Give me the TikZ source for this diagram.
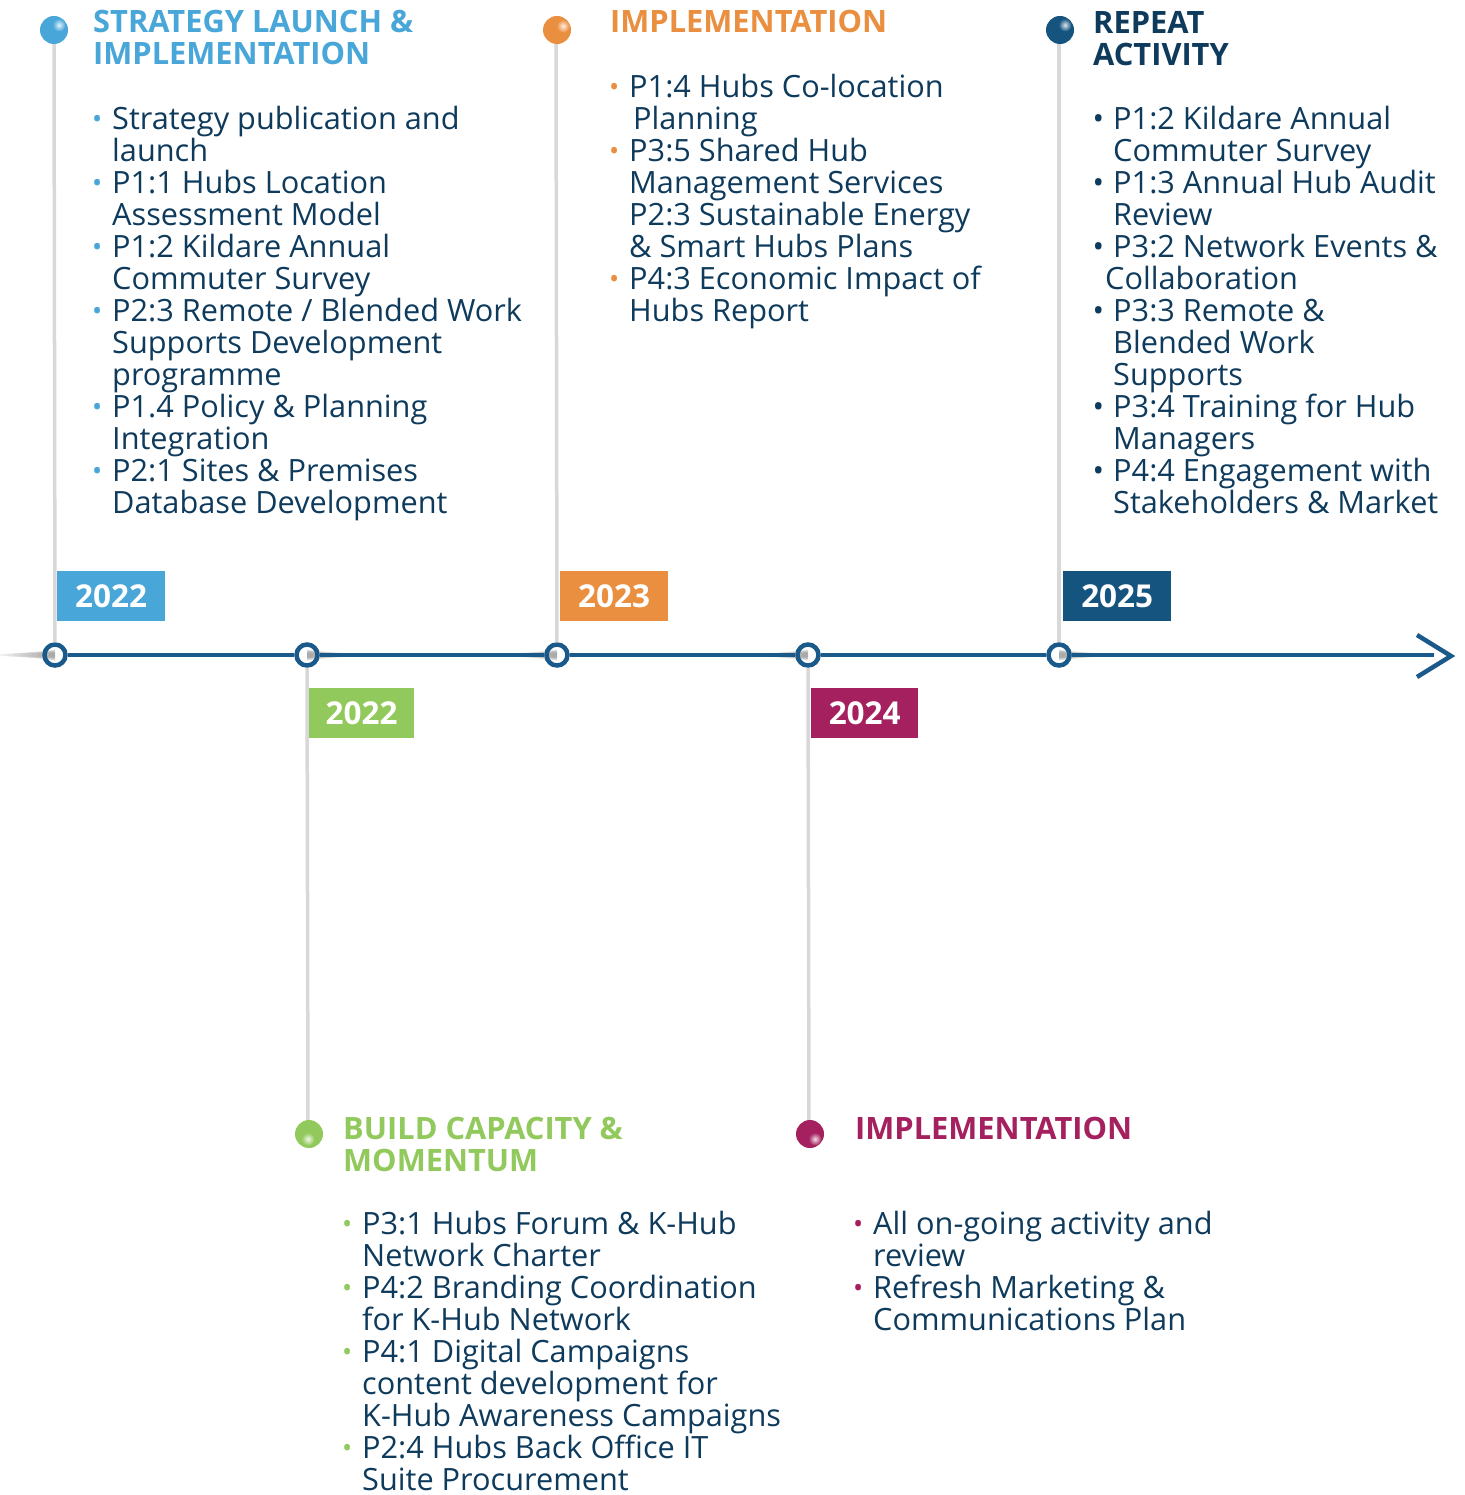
\documentclass[tikz,border=0pt]{standalone}
\usepackage{fontspec}
\setmainfont{Open Sans}
\usetikzlibrary{calc}
\definecolor{txt}{HTML}{0E3A5C}
\definecolor{tl}{HTML}{1A5A8A}
\definecolor{cblue}{HTML}{48A6D9}
\definecolor{cgreen}{HTML}{92C95C}
\definecolor{corange}{HTML}{EA8F3F}
\definecolor{cmag}{HTML}{A5205E}
\definecolor{cnavy}{HTML}{14547F}
\definecolor{stemc}{HTML}{D8D8D8}
\newcommand\bul[1]{\leavevmode\llap{\textcolor{#1}{\fontsize{27}{32}\selectfont\raisebox{1pt}{•}}\hspace{10pt}}}
\newcommand\nbul{\leavevmode\llap{•\hspace{9pt}}}
\newcommand\blk[2]{\parbox[t]{#1}{\lineskiplimit=-100pt\raggedright #2}}
\tikzset{
  body/.style={anchor=base west, inner sep=0pt, text=txt, font=\fontsize{30.7}{32}\selectfont},
  head/.style={anchor=base west, inner sep=0pt, font=\fontsize{30.8}{32}\selectfont\bfseries},
  yearbox/.style={anchor=north west, minimum width=108pt, minimum height=50pt, inner sep=0pt, text=white, font=\fontsize{31.5}{31}\selectfont\bfseries},
  tick/.style={circle, draw=tl, line width=4.5pt, minimum size=21pt, inner sep=0pt},
  pin/.style={circle, minimum size=28pt, inner sep=0pt},
  stem/.style={draw=stemc, line width=3.5pt},
  axis/.style={draw=tl, line width=4.5pt},
}
\newcommand\tlshadow[3]{%
  \begin{scope}
    \clip (#1,#2-12) rectangle (#1+#3*70,#2+12);
    \foreach \k in {1,...,10}{\fill[black,opacity=0.04] (#1,#2) ellipse ({6*\k} and {6.2-0.4*\k});}
  \end{scope}}
\newcommand\hilite[4]{% node, dx, dy, colour
  \shade[inner color=white!85!#4, outer color=#4] ($(#1.center)+(#2,#3)$) circle (6.5pt);}
\begin{document}
\begin{tikzpicture}[x=1pt,y=-1pt]
\useasboundingbox (0,0) rectangle (1464,1495);
% shadows
\tlshadow{55}{655}{-1}
\tlshadow{307}{655}{1}
\tlshadow{557}{655}{-1}
\tlshadow{808}{655}{-1}
\tlshadow{1059}{655}{1}
% timeline ticks
\node[tick] (c1) at (55,655) {};
\node[tick] (c2) at (307,655) {};
\node[tick] (c3) at (557,655) {};
\node[tick] (c4) at (808,655) {};
\node[tick] (c5) at (1059,655) {};
\coordinate (lend) at (1434,655);
\coordinate (tip) at (1451,656);
\coordinate (tipa) at (1417,635);
\coordinate (tipb) at (1417,677);
\draw[axis] (c1) -- (c2);
\draw[axis] (c2) -- (c3);
\draw[axis] (c3) -- (c4);
\draw[axis] (c4) -- (c5);
\draw[axis] (c5) -- (lend);
\draw[axis, line join=miter] (tipa) -- (tip) -- (tipb);
% pins
\coordinate (p1s) at (54,30);
\coordinate (p2s) at (556,30);
\coordinate (p3s) at (1059,30);
\coordinate (p4s) at (308,1133);
\coordinate (p5s) at (809,1133);
\draw[stem] (p1s) -- (c1);
\draw[stem] (p2s) -- (c3);
\draw[stem] (p3s) -- (c5);
\draw[stem] (c2) -- (p4s);
\draw[stem] (c4) -- (p5s);
\node[pin, fill=cblue] (p1) at (54,30) {};
\node[pin, fill=corange] (p2) at (557,30) {};
\node[pin, fill=cnavy] (p3) at (1060,30) {};
\node[pin, fill=cgreen] (p4) at (309,1134) {};
\node[pin, fill=cmag] (p5) at (810,1134) {};
\hilite{p1}{5}{-5}{cblue}
\hilite{p2}{6}{-4}{corange}
\hilite{p3}{5}{-5}{cnavy}
\hilite{p4}{-1}{5}{cgreen}
\hilite{p5}{5}{5}{cmag}
% year boxes
\node[yearbox, fill=cblue] (y1) at (57,571) {2022};
\node[yearbox, fill=cgreen, minimum width=105pt] (y2) at (309,688) {2022};
\node[yearbox, fill=corange] (y3) at (560,571) {2023};
\node[yearbox, fill=cmag, minimum width=107pt] (y4) at (811,688) {2024};
\node[yearbox, fill=cnavy] (y5) at (1063,571) {2025};
% column 1
\node[head, text=cblue] (h1) at (93,33) {\blk{400pt}{STRATEGY LAUNCH \&\\IMPLEMENTATION}};
\node[body] (b1) at (112,130) {\blk{440pt}{%
\bul{cblue}Strategy publication and\\
launch\\
\bul{cblue}P1:1 Hubs Location\\
Assessment Model\\
\bul{cblue}P1:2 Kildare Annual\\
Commuter Survey\\
\bul{cblue}P2:3 Remote / Blended Work\\
Supports Development\\
programme\\
\bul{cblue}P1.4 Policy \& Planning\\
Integration\\
\bul{cblue}P2:1 Sites \& Premises\\
Database Development}};
% column 2
\node[head, text=corange] (h2) at (610,33) {IMPLEMENTATION};
\node[body] (b2) at (629,98) {\blk{440pt}{%
\bul{corange}P1:4 Hubs Co-location\\
\hspace*{4pt}Planning\\
\bul{corange}P3:5 Shared Hub\\
Management Services\\
P2:3 Sustainable Energy\\
\& Smart Hubs Plans\\
\bul{corange}P4:3 Economic Impact of\\
Hubs Report}};
% column 3
\node[head, text=txt] (h3) at (1093,34) {\blk{300pt}{REPEAT\\ACTIVITY}};
\node[body] (b3) at (1113,130) {\blk{360pt}{%
\nbul P1:2 Kildare Annual\\
Commuter Survey\\
\nbul P1:3 Annual Hub Audit\\
Review\\
\nbul P3:2 Network Events \&\\
\hspace*{-8pt}Collaboration\\
\nbul P3:3 Remote \&\\
Blended Work\\
Supports\\
\nbul P3:4 Training for Hub\\
Managers\\
\nbul P4:4 Engagement with\\
Stakeholders \& Market}};
% bottom left
\node[head, text=cgreen] (h4) at (343,1139) {\blk{400pt}{BUILD CAPACITY \&\\MOMENTUM}};
\node[body] (b4) at (362,1234) {\blk{440pt}{%
\bul{cgreen}P3:1 Hubs Forum \& K-Hub\\
Network Charter\\
\bul{cgreen}P4:2 Branding Coordination\\
for K-Hub Network\\
\bul{cgreen}P4:1 Digital Campaigns\\
content development for\\
K-Hub Awareness Campaigns\\
\bul{cgreen}P2:4 Hubs Back Office IT\\
Suite Procurement}};
% bottom right
\node[head, text=cmag] (h5) at (855,1139) {IMPLEMENTATION};
\node[body] (b5) at (873,1234) {\blk{440pt}{%
\bul{cmag}All on-going activity and\\
review\\
\bul{cmag}Refresh Marketing \&\\
Communications Plan}};
\end{tikzpicture}
\end{document}
